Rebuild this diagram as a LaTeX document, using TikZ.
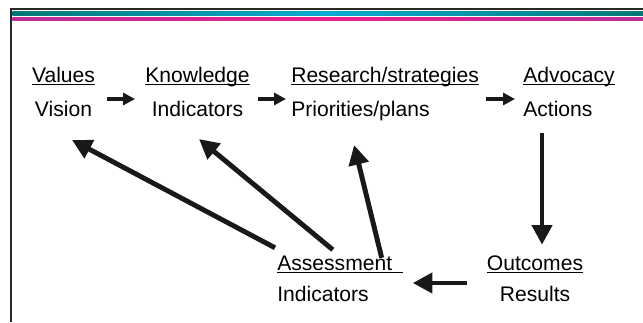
\documentclass[tikz,border=0pt]{standalone}
\usepackage{fontspec}
\setmainfont{Liberation Sans}
\usepackage{tikz}
\usetikzlibrary{arrows.meta,calc,positioning}

\definecolor{frame}{RGB}{40,40,40}
\definecolor{tealdark}{RGB}{0,120,118}
\definecolor{tealmid}{RGB}{0,172,210}
\definecolor{magside}{RGB}{185,45,150}
\definecolor{magmid}{RGB}{236,32,140}

% underlined word, rule sits just under the baseline
\newcommand{\ulword}[1]{\setbox0\hbox{#1}\rlap{\rule[-1.6pt]{\wd0}{0.9pt}}\box0}

\begin{document}
\begin{tikzpicture}[x=0.025cm,y=-0.025cm,
    concept/.style={inner sep=0pt, font=\fontsize{15}{24}\selectfont},
    lowconcept/.style={inner sep=0pt, font=\fontsize{15}{22}\selectfont},
    smallarrow/.style={line width=3.5pt, -{Triangle[length=8.5pt,width=8.5pt]}, black!90},
    bigarrow/.style={line width=3.5pt, -{Triangle[length=14pt,width=14pt]}, black!90}]
    \useasboundingbox (0,0) rectangle (643,322);

    % slide frame and header bars
    \fill[frame] (10,8.3) rectangle (643,10.3);
    \fill[frame] (10,8.3) rectangle (12.3,322);
    \shade[left color=tealdark, right color=tealdark, middle color=tealmid]
        (12.3,11.3) rectangle (643,15.7);
    \shade[left color=magside, right color=magside, middle color=magmid]
        (12.3,17) rectangle (643,20.7);

    % top row
    \node[concept, align=center] (values) at (63.5,93) {\ulword{Values}\strut\\Vision\strut};
    \node[concept, align=center] (know) at (197.5,93) {\ulword{Knowledge}\strut\\Indicators\strut};
    \node[concept, align=left, anchor=west] (research) at (291,93)
        {\ulword{Research/strategies}\strut\\Priorities/plans\strut};
    \node[concept, align=left, anchor=west] (advocacy) at (523,93)
        {\ulword{Advocacy}\strut\\Actions\strut};

    % bottom row
    \node[lowconcept, align=center] (outcomes) at (535,280) {\ulword{Outcomes}\strut\\Results\strut};
    \node[lowconcept, align=left, anchor=west] (assess) at (277,280)
        {\ulword{Assessment\hspace{8pt}}\strut\\Indicators\strut};

    % forward chain
    \draw[smallarrow] ($(values.east)+(12,6)$) -- ($(know.west)+(-10,6)$);
    \draw[smallarrow] ($(know.east)+(8,6)$) -- ($(research.west)+(-5,6)$);
    \draw[smallarrow] ($(research.east)+(7,6)$) -- ($(advocacy.west)+(-8,6)$);
    \draw[bigarrow] ($(outcomes.north |- advocacy.south)+(7,6)$) -- ($(outcomes.north)+(7,-4)$);
    \draw[bigarrow] ($(outcomes.west)+(-20,3)$) -- ($(assess.east)+(9,3)$);

    % feedback from assessment
    \draw[bigarrow] ($(assess.north west)+(-2,-1)$) -- ($(values.south)+(8.5,13)$);
    \draw[bigarrow] ($(assess.north)+(-7.5,1)$) -- ($(know.south)+(1.5,12)$);
    \draw[bigarrow] ($(assess.north east)+(-22,9)$) -- ($(research.south)+(-31,18)$);
\end{tikzpicture}
\end{document}
